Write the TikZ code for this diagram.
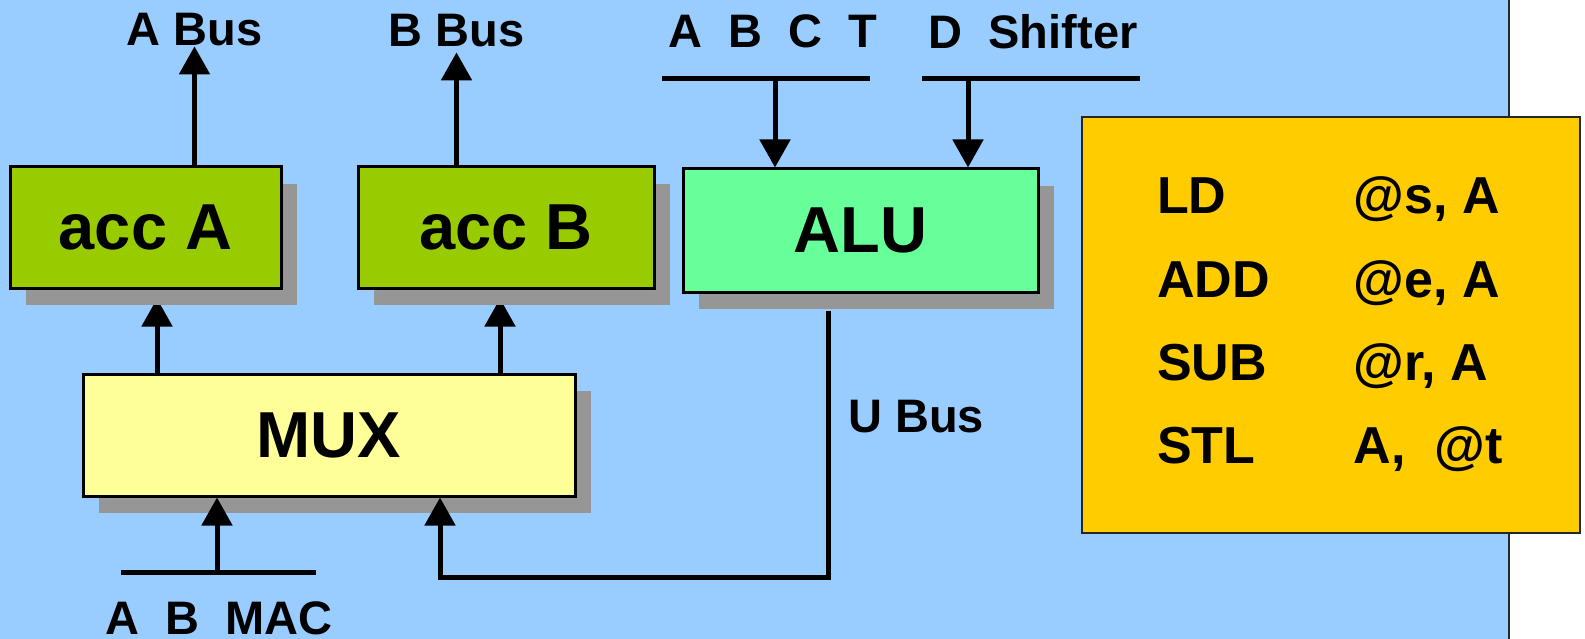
\documentclass[tikz,border=0pt]{standalone}
\usepackage{fontspec}
\setmainfont{Liberation Sans}
\usepackage{tikz}
\usetikzlibrary{arrows.meta,positioning,shadows}
\definecolor{slideblue}{HTML}{99CCFF}
\definecolor{accgreen}{HTML}{99CC00}
\definecolor{alugreen}{HTML}{66FF99}
\definecolor{muxyellow}{HTML}{FFFF99}
\definecolor{codegold}{HTML}{FFCC00}
\definecolor{shadowgray}{HTML}{969696}
\pgfdeclarelayer{back}
\pgfdeclarelayer{links}
\pgfsetlayers{back,links,main}
\tikzset{
    unit/.style={rectangle, draw=black, line width=3pt, inner sep=0pt,
        font=\fontsize{65}{78}\selectfont\bfseries,
        drop shadow={shadow xshift=16pt, shadow yshift=-17pt,
            fill=shadowgray, opacity=1}},
    buslabel/.style={inner sep=0pt, anchor=base,
        font=\fontsize{47}{56}\selectfont\bfseries},
    flow/.style={-{Triangle[width=30pt,length=28pt]}, line width=5pt},
    busline/.style={line width=5pt}
}

\begin{document}
\begin{tikzpicture}[x=1pt, y=-1pt, node distance=74pt]
        \useasboundingbox (0,0) rectangle (1585,639);
        \begin{pgfonlayer}{back}
            \fill[white] (0,0) rectangle (1585,639);
            \fill[slideblue] (0,0) rectangle (1509,639);
            \draw[line width=2pt, black!85] (1509,0) -- (1509,639);
        \end{pgfonlayer}
        \node[unit, fill=accgreen, minimum width=271pt, minimum height=121pt] (accA) at (145.5,227.5) {acc A};
        \node[unit, fill=accgreen, minimum width=296pt, minimum height=121pt, right=of accA] (accB) {acc B};
        \node[unit, fill=alugreen, minimum width=355pt, minimum height=123pt] (alu) at (860.5,230.5) {ALU};
        \node[unit, fill=muxyellow, minimum width=492pt, minimum height=122pt] (mux) at (329,435) {MUX};
        \node[rectangle, draw=black!85, line width=2pt, fill=codegold, minimum width=498pt, minimum height=416pt] (code) at (1331,325) {};
        \node[anchor=base west, inner sep=0pt, font=\fontsize{52}{83.3}\selectfont\bfseries] (ops) at (1157,214)
            {\begin{tabular}[t]{@{}l@{\hspace{84pt}}l@{}}LD & @s, A\\ADD & @e, A\\SUB & @r, A\\STL & A,\ \ @t\end{tabular}};
        \node[buslabel] (abus) at (194.5,45.7) {A Bus};
        \node[buslabel] (bbus) at (456.5,46.7) {B Bus};
        \node[buslabel] (abct) at (772.5,47.7) {A\ \ B\ \ C\ \ T};
        \node[buslabel] (dshift) at (1033,49) {D\ \ Shifter};
        \node[buslabel] (amac) at (219,634) {A\ \ B\ \ MAC};
        \node[buslabel, anchor=base west] (ubus) at (848,432.7) {U Bus};
        \coordinate (abcttap) at (775,79);
        \coordinate (dtap) at (968,79);
        \coordinate (mactap) at (217,572);
        \coordinate (ucorner) at (440,577);
        \begin{pgfonlayer}{links}
            \draw[flow, shorten >=9pt] ([xshift=11.5pt]accA.south |- mux.north) -- ([xshift=11.5pt]accA.south);
            \draw[flow, shorten >=9pt] ([xshift=-6pt]accB.south |- mux.north) -- ([xshift=-6pt]accB.south);
        \end{pgfonlayer}
        \draw[flow] (accA.north -| abus.south) -- (abus.south);
        \draw[flow, shorten >=5pt] (accB.north -| bbus.south) -- (bbus.south);
        \draw[busline] ([xshift=-113pt]abcttap) -- ([xshift=95pt]abcttap);
        \draw[busline] ([xshift=-46pt]dtap) -- ([xshift=172pt]dtap);
        \draw[flow] (abcttap) -- (abcttap |- alu.north);
        \draw[flow] (dtap) -- (dtap |- alu.north);
        \draw[busline] ([xshift=-96pt]mactap) -- ([xshift=99pt]mactap);
        \draw[flow] (mactap) -- (mactap |- mux.south);
        \draw[flow, shorten <=17pt] ([xshift=-32.5pt]alu.south) |- (ucorner) -- (ucorner |- mux.south);
    \end{tikzpicture}
\end{document}
